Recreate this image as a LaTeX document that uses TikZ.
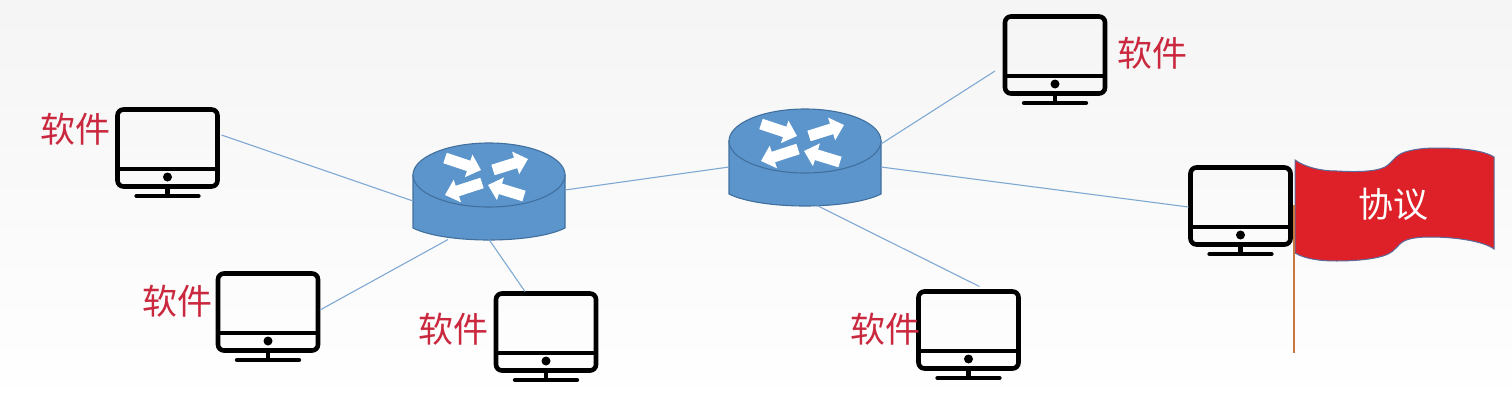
\documentclass[tikz,border=0pt]{standalone}
\usepackage{fontspec}
\newfontfamily\cjk{Noto Sans CJK SC}
\usetikzlibrary{arrows.meta}
\definecolor{linkblue}{HTML}{7FA9D3}
\definecolor{routerfill}{HTML}{5B95CB}
\definecolor{routeredge}{HTML}{41709F}
\definecolor{softred}{HTML}{C9283E}
\definecolor{flagred}{HTML}{DE2029}
\definecolor{flagedge}{HTML}{5A6A9A}
\definecolor{poleorange}{HTML}{C9773F}
\tikzset{
  x=1pt,y=-1pt,
  link/.style={draw=linkblue,line width=1.1pt},
  monbox/.style={draw=black,line width=4.6pt,rounded corners=6pt,minimum width=100pt,minimum height=77pt,inner sep=0pt,outer sep=2pt},
  monpart/.style={draw=black,line width=4.3pt},
  routerbox/.style={minimum width=152pt,minimum height=97pt,inner sep=0pt,outer sep=0pt},
  routerbody/.style={fill=routerfill,draw=routeredge,line width=1.1pt},
  flow/.style={draw=white,line width=11pt,-{Triangle[length=13pt,width=23pt]}},
  softlabel/.style={text=softred,font=\cjk\fontsize{35}{36}\selectfont,inner sep=0pt},
  flaglabel/.style={text=white,font=\cjk\fontsize{35}{36}\selectfont,inner sep=0pt}
}
\newcommand{\pcunit}[3]{%
  \node[monbox] (#1) at (#2,#3) {};
  \begin{scope}[shift={(#2,#3)}]
    \draw[monpart] (-50,21) -- (50,21);
    \fill (0,29) circle[radius=4.5pt];
    \draw[monpart] (0,40) -- (0,47);
    \draw[monpart,line cap=round] (-31,48) -- (31,48);
  \end{scope}}
\newcommand{\routerunit}[3]{%
  \node[routerbox] (#1) at (#2,#3) {};
  \begin{scope}[shift={(#2,#3)}]
    \path[routerbody] (-76,-16) -- (-76,37) .. controls (-60,45) and (-30,49) .. (0,49)
       .. controls (30,49) and (60,45) .. (76,37) -- (76,-16) -- cycle;
    \path[routerbody] (0,-16) ellipse[x radius=76pt,y radius=32pt];
    \draw[flow] (-44,-33) -- (-8,-21);
    \draw[flow] (4,-21) -- (39,-32);
    \draw[flow] (-7,-8) -- (-44,4);
    \draw[flow] (35,5) -- (-1,-6);
  \end{scope}}
\begin{document}
\begin{tikzpicture}
\useasboundingbox (0,0) rectangle (1512,407);
\shade[top color=black!4,bottom color=white,middle color=black!2] (0,0) rectangle (1512,407);

\routerunit{r1}{489}{191}
\routerunit{r2}{805}{157}

\pcunit{m1}{167.5}{148}
\pcunit{m2}{268}{312}
\pcunit{m3}{546}{332}
\pcunit{m4}{1055}{55}
\pcunit{m5}{1240.5}{206}
\pcunit{m6}{968.5}{330}

\draw[link] ([xshift=2pt,yshift=13pt]m1.east) -- ([yshift=-10pt]r1.west);
\draw[link] ([yshift=2pt]m2.east) -- ([xshift=-41pt]r1.south);
\draw[link] ([xshift=-21pt]m3.north) -- (r1.south);
\draw[link] ([yshift=1pt]r1.east) -- ([yshift=-10pt]r2.west);
\draw[link] ([yshift=13pt]r2.east) -- ([xshift=-8pt,yshift=-16pt]m4.west);
\draw[link] ([yshift=-10pt]r2.east) -- ([yshift=-1pt]m5.west);
\draw[link] ([xshift=12pt]r2.south) -- ([xshift=11pt,yshift=3pt]m6.north);

% flag
\draw[draw=flagedge,line width=1pt,fill=flagred]
  (1295,160) .. controls (1305,167) and (1320,171) .. (1337,171)
  .. controls (1355,172) and (1375,172) .. (1385,167)
  .. controls (1392,163) and (1395,155) .. (1405,152)
  .. controls (1415,149) and (1425,148) .. (1437,148)
  .. controls (1460,148) and (1483,150) .. (1494,157)
  -- (1494,249)
  .. controls (1483,241) and (1455,237) .. (1430,237)
  .. controls (1415,237) and (1405,239) .. (1400,244)
  .. controls (1393,251) and (1392,253) .. (1383,256)
  .. controls (1370,260) and (1350,261) .. (1337,261)
  .. controls (1320,261) and (1305,259) .. (1295,253) -- cycle;
\coordinate (poletop) at (1294,205);
\coordinate (polefoot) at (1294,353);
\draw[poleorange,line width=2.4pt] (poletop) -- (polefoot);
\node[flaglabel] (proto) at (1393,204) {协议};

\node[softlabel] (s1) at (75,129) {软件};
\node[softlabel] (s2) at (177,301) {软件};
\node[softlabel] (s3) at (453,329) {软件};
\node[softlabel] (s4) at (1152,53) {软件};
\node[softlabel] (s5) at (885,329) {软件};
\end{tikzpicture}
\end{document}
